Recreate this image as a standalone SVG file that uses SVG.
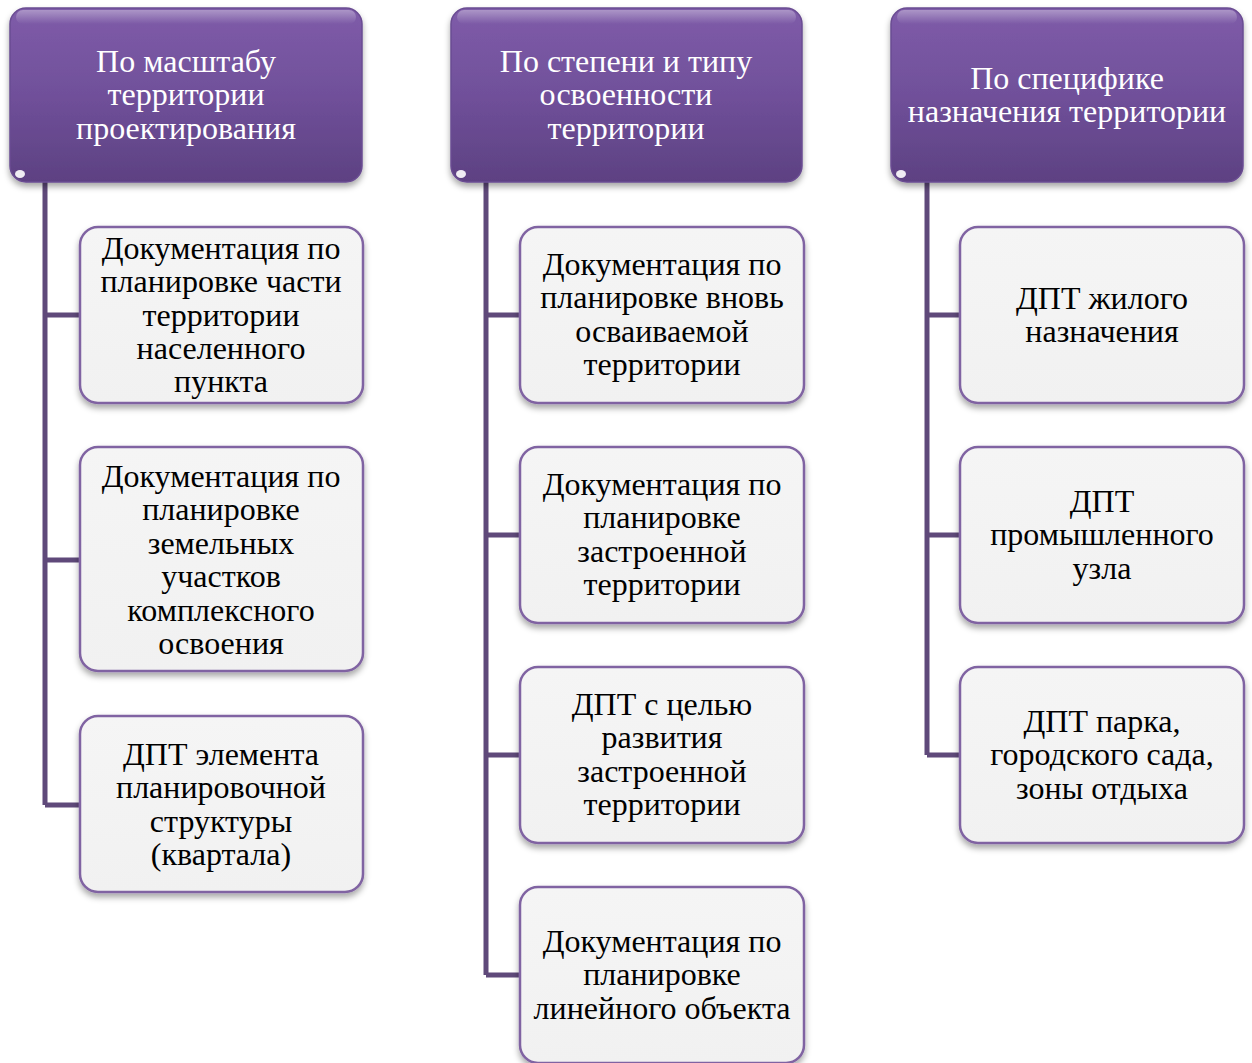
<svg xmlns="http://www.w3.org/2000/svg" width="1252" height="1063" viewBox="0 0 1252 1063">
<defs>
<linearGradient id="hg" x1="0" y1="0" x2="0" y2="1">
<stop offset="0" stop-color="#7f5ca9"/>
<stop offset="0.5" stop-color="#70509a"/>
<stop offset="1" stop-color="#5d4182"/>
</linearGradient>
<linearGradient id="gloss" x1="0" y1="0" x2="0" y2="1">
<stop offset="0" stop-color="#ffffff" stop-opacity="0.35"/>
<stop offset="1" stop-color="#ffffff" stop-opacity="0"/>
</linearGradient>
<linearGradient id="cg" x1="0" y1="0" x2="0" y2="1">
<stop offset="0" stop-color="#f5f5f5"/>
<stop offset="1" stop-color="#f1f1f1"/>
</linearGradient>
<filter id="sh" x="-10%" y="-10%" width="120%" height="130%">
<feDropShadow dx="0" dy="4" stdDeviation="3" flood-color="#000" flood-opacity="0.35"/>
</filter>
</defs>
<style>
.hdr{fill:url(#hg);stroke:#6a4c92;stroke-width:1.5;filter:url(#sh)}
.gl{fill:url(#gloss)}
.chd{fill:url(#cg);stroke:#8064a2;stroke-width:2.5;filter:url(#sh)}
.ht{font-family:"Liberation Serif","Times New Roman",serif;font-size:32px;fill:#ffffff;text-anchor:middle}
.ct{font-family:"Liberation Serif","Times New Roman",serif;font-size:32px;fill:#000000;text-anchor:middle}
.con{fill:none;stroke:#5f497a;stroke-width:5}
.spot{fill:#ffffff;opacity:0.9}
</style>

<g id="connectors">
<path class="con" d="M45 182 V805 M45 315 H80 M45 560 H80 M45 805 H80"/>
<path class="con" d="M486 182 V975 M486 315 H520 M486 535 H520 M486 755 H520 M486 975 H520"/>
<path class="con" d="M927 182 V755 M927 315 H960 M927 535 H960 M927 755 H960"/>
</g>

<g id="h1">
<rect class="hdr" x="10" y="8" width="352" height="174" rx="16"/>
<rect class="gl" x="16" y="10" width="340" height="14" rx="7"/>
<ellipse class="spot" cx="20" cy="174" rx="5" ry="4"/>
<text class="ht"><tspan x="186" y="72">По масштабу</tspan><tspan x="186" y="105">территории</tspan><tspan x="186" y="139">проектирования</tspan></text>
</g>
<g id="h2">
<rect class="hdr" x="451" y="8" width="351" height="174" rx="16"/>
<rect class="gl" x="457" y="10" width="339" height="14" rx="7"/>
<ellipse class="spot" cx="461" cy="174" rx="5" ry="4"/>
<text class="ht"><tspan x="626" y="72">По степени и типу</tspan><tspan x="626" y="105">освоенности</tspan><tspan x="626" y="139">территории</tspan></text>
</g>
<g id="h3">
<rect class="hdr" x="891" y="8" width="352" height="174" rx="16"/>
<rect class="gl" x="897" y="10" width="340" height="14" rx="7"/>
<ellipse class="spot" cx="901" cy="174" rx="5" ry="4"/>
<text class="ht"><tspan x="1067" y="89">По специфике</tspan><tspan x="1067" y="122">назначения территории</tspan></text>
</g>

<g id="c1a">
<rect class="chd" x="80" y="227" width="283" height="176" rx="18"/>
<text class="ct"><tspan x="221" y="259">Документация по</tspan><tspan x="221" y="292">планировке части</tspan><tspan x="221" y="326">территории</tspan><tspan x="221" y="359">населенного</tspan><tspan x="221" y="392">пункта</tspan></text>
</g>
<g id="c1b">
<rect class="chd" x="80" y="447" width="283" height="224" rx="18"/>
<text class="ct"><tspan x="221" y="487">Документация по</tspan><tspan x="221" y="520">планировке</tspan><tspan x="221" y="554">земельных</tspan><tspan x="221" y="587">участков</tspan><tspan x="221" y="621">комплексного</tspan><tspan x="221" y="654">освоения</tspan></text>
</g>
<g id="c1c">
<rect class="chd" x="80" y="716" width="283" height="176" rx="18"/>
<text class="ct"><tspan x="221" y="765">ДПТ элемента</tspan><tspan x="221" y="798">планировочной</tspan><tspan x="221" y="832">структуры</tspan><tspan x="221" y="865">(квартала)</tspan></text>
</g>

<g id="c2a">
<rect class="chd" x="520" y="227" width="284" height="176" rx="18"/>
<text class="ct"><tspan x="662" y="275">Документация по</tspan><tspan x="662" y="308">планировке вновь</tspan><tspan x="662" y="342">осваиваемой</tspan><tspan x="662" y="375">территории</tspan></text>
</g>
<g id="c2b">
<rect class="chd" x="520" y="447" width="284" height="176" rx="18"/>
<text class="ct"><tspan x="662" y="495">Документация по</tspan><tspan x="662" y="528">планировке</tspan><tspan x="662" y="562">застроенной</tspan><tspan x="662" y="595">территории</tspan></text>
</g>
<g id="c2c">
<rect class="chd" x="520" y="667" width="284" height="176" rx="18"/>
<text class="ct"><tspan x="662" y="715">ДПТ с целью</tspan><tspan x="662" y="748">развития</tspan><tspan x="662" y="782">застроенной</tspan><tspan x="662" y="815">территории</tspan></text>
</g>
<g id="c2d">
<rect class="chd" x="520" y="887" width="284" height="176" rx="18"/>
<text class="ct"><tspan x="662" y="952">Документация по</tspan><tspan x="662" y="985">планировке</tspan><tspan x="662" y="1019">линейного объекта</tspan></text>
</g>

<g id="c3a">
<rect class="chd" x="960" y="227" width="284" height="176" rx="18"/>
<text class="ct"><tspan x="1102" y="309">ДПТ жилого</tspan><tspan x="1102" y="342">назначения</tspan></text>
</g>
<g id="c3b">
<rect class="chd" x="960" y="447" width="284" height="176" rx="18"/>
<text class="ct"><tspan x="1102" y="512">ДПТ</tspan><tspan x="1102" y="545">промышленного</tspan><tspan x="1102" y="579">узла</tspan></text>
</g>
<g id="c3c">
<rect class="chd" x="960" y="667" width="284" height="176" rx="18"/>
<text class="ct"><tspan x="1102" y="732">ДПТ парка,</tspan><tspan x="1102" y="765">городского сада,</tspan><tspan x="1102" y="799">зоны отдыха</tspan></text>
</g>
</svg>
